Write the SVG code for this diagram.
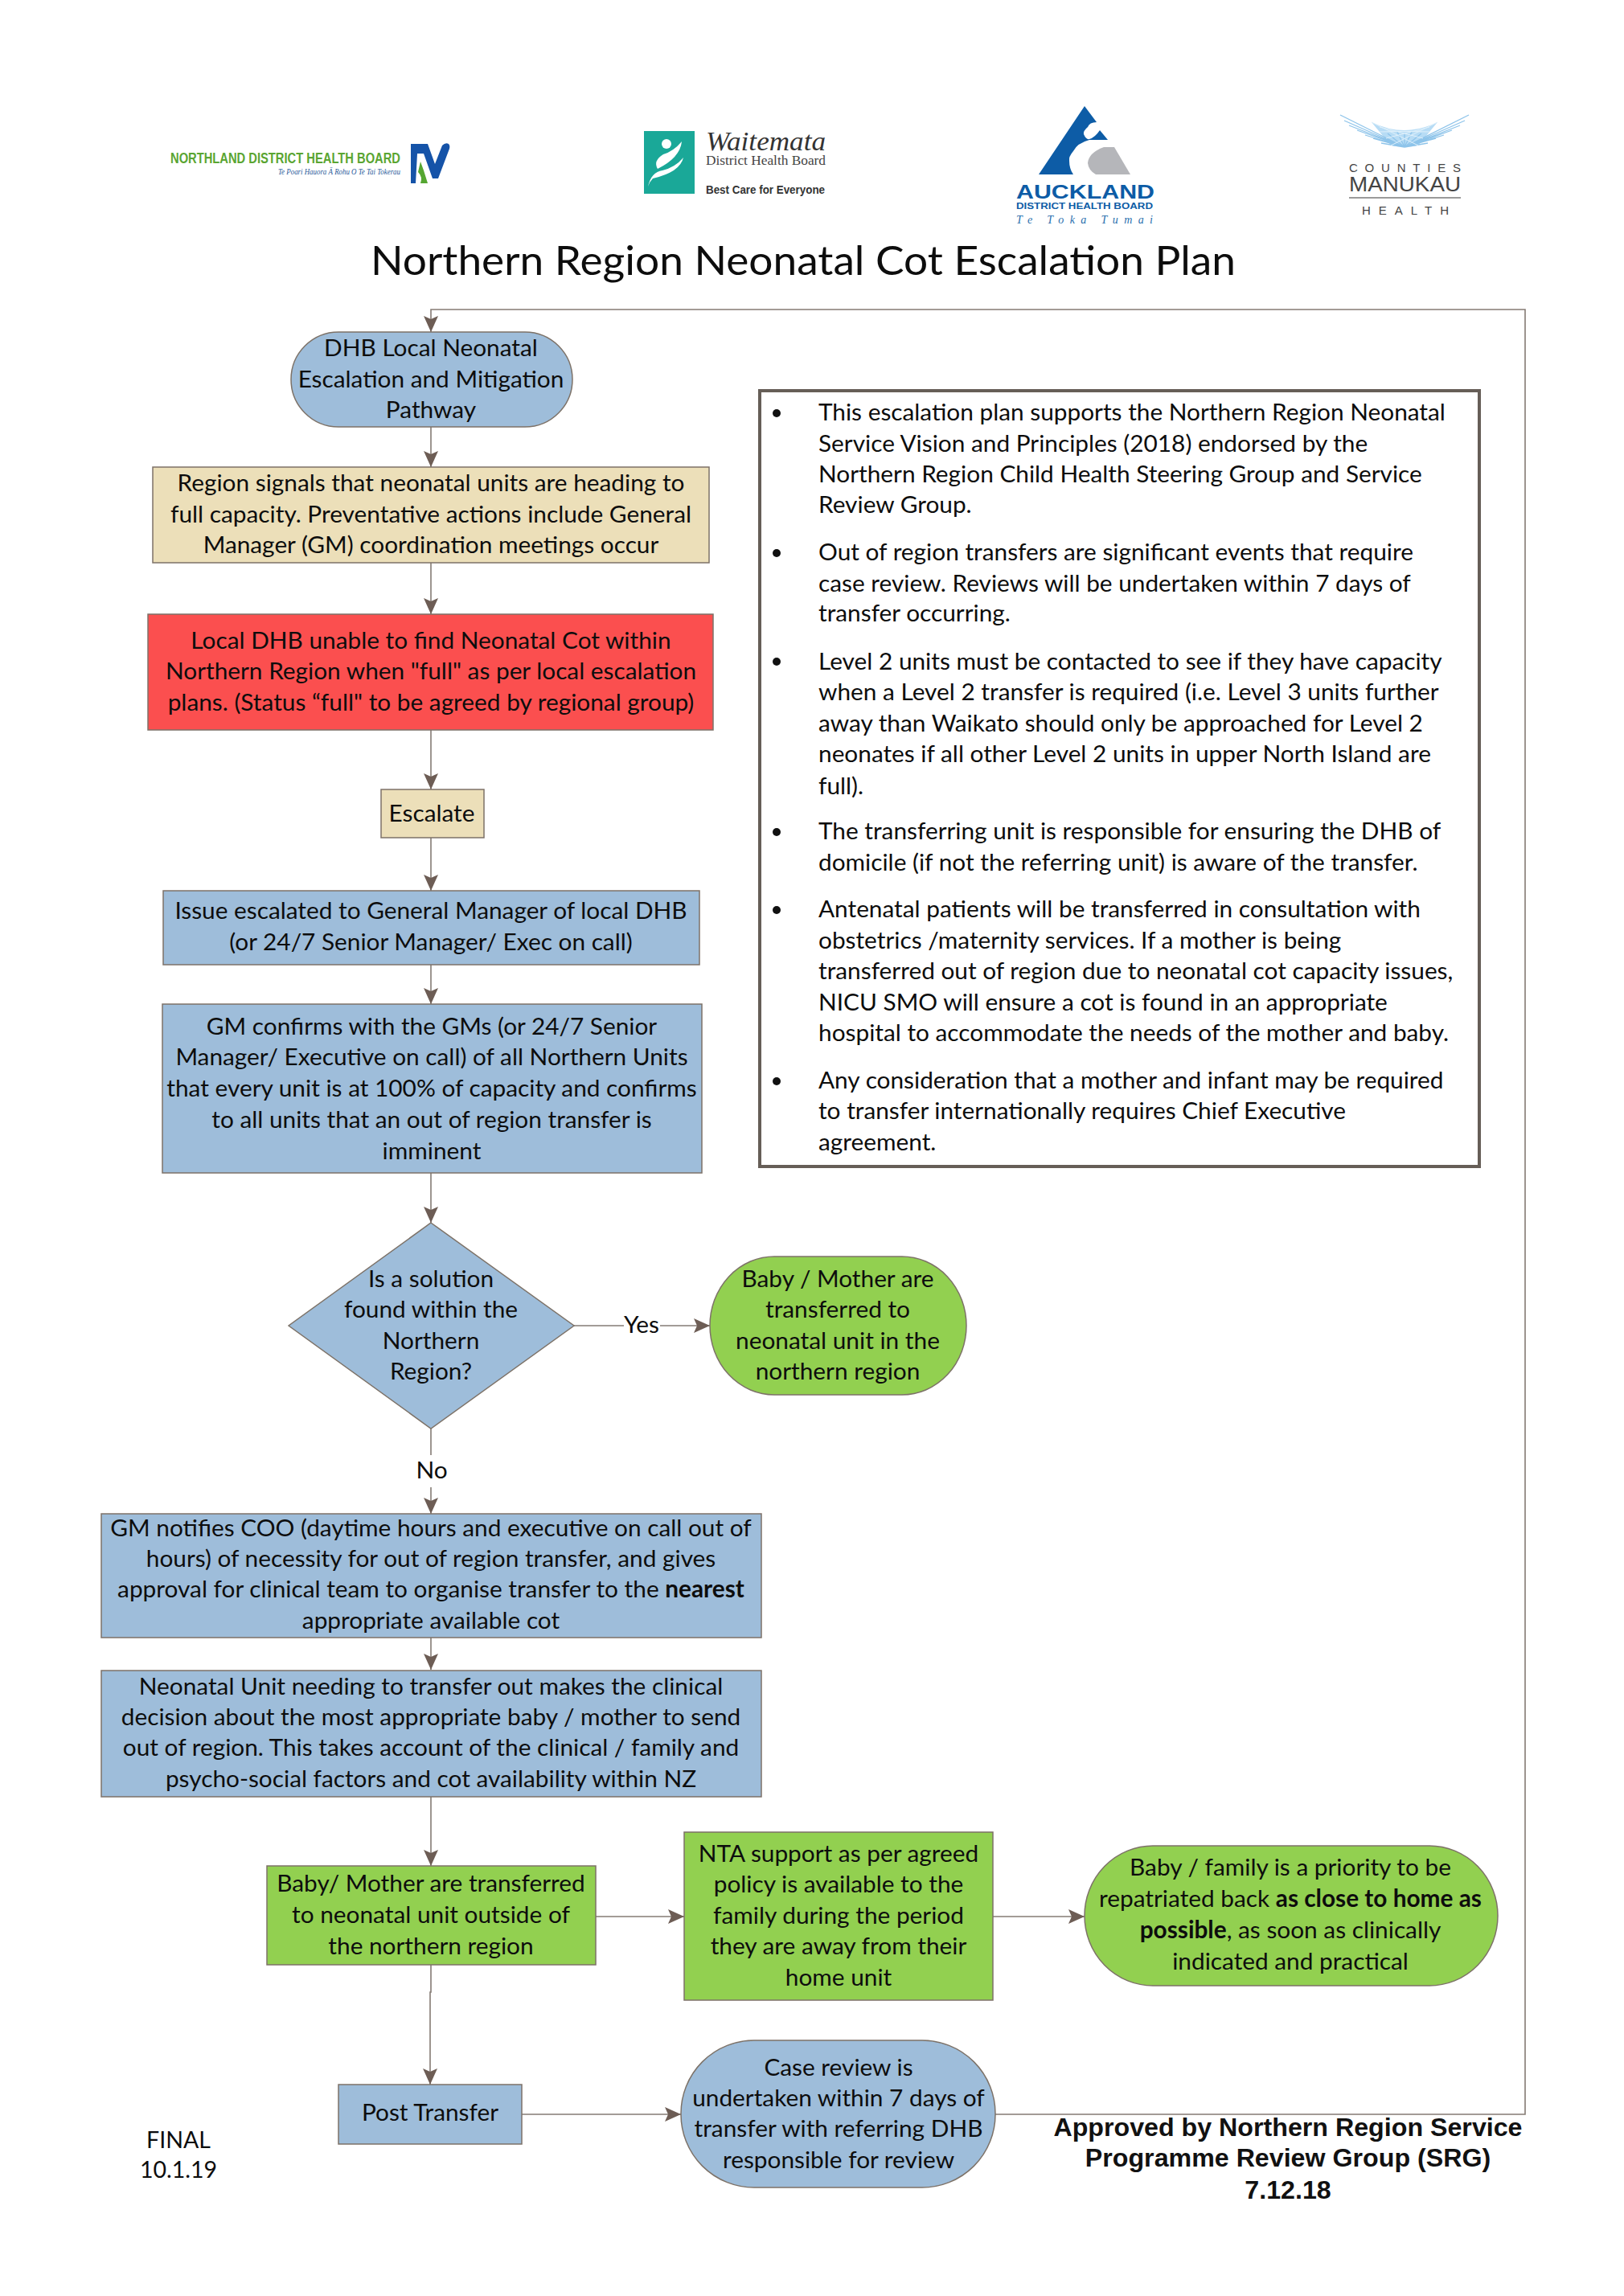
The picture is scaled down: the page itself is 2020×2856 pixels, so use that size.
<svg xmlns="http://www.w3.org/2000/svg" width="2020" height="2856" viewBox="0 0 2020 2856">
<style>
text{font-family:"Lato","Carlito","Liberation Sans",sans-serif;font-size:29.8px;fill:#0d0d0d}
.c{text-anchor:middle}
.b{font-weight:700}
.n{stroke:#7d7268;stroke-width:1.5}
.blue{fill:#9ebdda}.tan{fill:#ecdfb9}.red{fill:#fb4f4f}.green{fill:#92d050}
.e{fill:none;stroke:#857b74;stroke-width:1.6}
.ah{fill:#6d5d55}
.appr{font-family:"Liberation Sans",Arial,sans-serif;font-weight:700;font-size:32.2px;fill:#111}
.ser{font-family:"Liberation Serif",serif}
.sans{font-family:"Liberation Sans",Arial,sans-serif}
.small{font-size:28.5px}
</style>
<defs>
<marker id="arrow" markerUnits="userSpaceOnUse" markerWidth="20" markerHeight="20" refX="20" refY="10" orient="auto">
<path class="ah" d="M0,1 L20,10 L0,19 L4,10 Z"/>
</marker>
</defs>
<rect width="2020" height="2856" fill="#fff"/>

<g id="logo-northland">
<text x="212" y="203" class="sans b" style="font-size:18px;fill:#5aa532" textLength="286" lengthAdjust="spacingAndGlyphs">NORTHLAND DISTRICT HEALTH BOARD</text>
<text x="346" y="217" class="ser" style="font-size:11px;font-style:italic;fill:#2a5a9a" textLength="152" lengthAdjust="spacingAndGlyphs">Te Poari Hauora Ā Rohu O Te Tai Tokerau</text>
<path fill="#1553a8" d="M511,179H532L541,204L550,181Q554,177 558,179Q560,181 559,185L545,222H538L527,191H519L517,228H511Z"/>
<path fill="#55a631" d="M523,201L527,212L532,228H523Q526,220 520,214Z"/>
</g>

<g id="logo-waitemata">
<rect x="801" y="163" width="63" height="78" fill="#1aa898"/>
<circle cx="829" cy="179" r="6" fill="#fff"/>
<path fill="#fff" d="M848,176Q846,196 818,210Q812,200 825,192Q838,188 848,176Z"/>
<path fill="#fff" d="M850,196Q846,214 812,222Q808,226 806,232Q810,214 824,212Q840,208 850,196Z"/>
<text x="878" y="187" class="ser" style="font-size:33px;font-style:italic;fill:#333" textLength="149" lengthAdjust="spacingAndGlyphs">Waitemata</text>
<text x="878" y="205" class="ser" style="font-size:16px;fill:#444" textLength="149" lengthAdjust="spacingAndGlyphs">District Health Board</text>
<text x="878" y="241" class="sans b" style="font-size:14px;fill:#333" textLength="148" lengthAdjust="spacingAndGlyphs">Best Care for Everyone</text>
</g>

<g id="logo-auckland">
<path fill="#0d5ca6" d="M1349,132L1364,152Q1355,152 1353,158Q1347,163 1348,167Q1351,174 1355,173Q1362,171 1368,162L1378,174H1355Q1340,178 1335,188Q1329,195 1330,200Q1330,210 1335,217H1292Z"/>
<path fill="#b5b6ba" d="M1373,183H1386L1406,217H1363Q1354,212 1353,203Q1354,190 1373,183Z"/>
<text x="1264" y="247" class="sans b" style="font-size:23px;fill:#0d5ca6" textLength="172" lengthAdjust="spacingAndGlyphs">AUCKLAND</text>
<text x="1264" y="260" class="sans b" style="font-size:11.5px;fill:#0d5ca6" textLength="170" lengthAdjust="spacingAndGlyphs">DISTRICT HEALTH BOARD</text>
<text x="1264" y="278" class="ser" style="font-size:14px;font-style:italic;fill:#2a70ae" textLength="170" lengthAdjust="spacing">Te Toka Tumai</text>
</g>

<g id="logo-counties">
<path fill="#b7dcf5" d="M1706,152Q1747,172 1788,152L1764,181Q1747,184 1730,181Z"/>
<g fill="none" stroke="#8ec4ea" stroke-width="1.3">
<path d="M1747,183L1667,143M1747,183L1672,150M1747,183L1678,156M1747,183L1688,162M1747,183L1698,168M1747,183L1708,172M1747,183L1718,178M1747,183L1726,166M1747,183L1738,164M1747,183L1747,166M1747,183L1756,164M1747,183L1768,166M1747,183L1776,178M1747,183L1786,172M1747,183L1796,168M1747,183L1806,162M1747,183L1816,156M1747,183L1822,150M1747,183L1827,143"/>
<path stroke="#dff0fb" stroke-width="1" d="M1706,152L1764,181M1716,158L1770,172M1728,163L1778,164M1788,152L1730,181M1778,158L1724,172M1766,163L1716,164"/>
</g>
<text x="1678" y="214" class="sans" style="font-size:15px;fill:#444" textLength="139" lengthAdjust="spacing">COUNTIES</text>
<text x="1678" y="238" class="sans" style="font-size:25px;fill:#444" textLength="139" lengthAdjust="spacingAndGlyphs">MANUKAU</text>
<rect x="1678" y="245" width="139" height="2" fill="#9a9a9a"/>
<text x="1694" y="267" class="sans" style="font-size:15px;fill:#444" textLength="108" lengthAdjust="spacing">HEALTH</text>
</g>

<text id="title" x="461" y="342" style="font-size:50px" textLength="1076" lengthAdjust="spacingAndGlyphs">Northern Region Neonatal Cot Escalation Plan</text>

<g id="connectors">
<path class="e" marker-end="url(#arrow)" d="M1238,2630H1897V385H536V413"/>
<path class="e" marker-end="url(#arrow)" d="M536,531V581"/>
<path class="e" marker-end="url(#arrow)" d="M536,700V764"/>
<path class="e" marker-end="url(#arrow)" d="M536,908V982"/>
<path class="e" marker-end="url(#arrow)" d="M536,1042V1108"/>
<path class="e" marker-end="url(#arrow)" d="M536,1200V1249"/>
<path class="e" marker-end="url(#arrow)" d="M536,1459V1521"/>
<path class="e" d="M714,1649H776"/>
<path class="e" marker-end="url(#arrow)" d="M821,1649H883"/>
<path class="e" d="M536,1777V1810"/>
<path class="e" marker-end="url(#arrow)" d="M536,1850V1883"/>
<path class="e" marker-end="url(#arrow)" d="M536,2037V2077"/>
<path class="e" marker-end="url(#arrow)" d="M536,2235V2321"/>
<path class="e" marker-end="url(#arrow)" d="M741,2384H851"/>
<path class="e" marker-end="url(#arrow)" d="M1235,2384H1349"/>
<path class="e" marker-end="url(#arrow)" d="M536,2444V2478H535V2593"/>
<path class="e" marker-end="url(#arrow)" d="M649,2630H847"/>
</g>

<g id="node-dhb-local">
<rect class="n blue" x="362" y="413" width="350" height="118" rx="59" ry="59"/>
<text class="c" x="536" y="443">DHB Local Neonatal</text>
<text class="c" x="536" y="482">Escalation and Mitigation</text>
<text class="c" x="536" y="520">Pathway</text>
</g>
<g id="node-region-signals">
<rect class="n tan" x="190" y="581" width="692" height="119"/>
<text class="c" x="536" y="611">Region signals that neonatal units are heading to</text>
<text class="c" x="536" y="650">full capacity. Preventative actions include General</text>
<text class="c" x="536" y="688">Manager (GM) coordination meetings occur</text>
</g>
<g id="node-local-dhb">
<rect class="n red" x="184" y="764" width="703" height="144"/>
<text class="c" x="536" y="807">Local DHB unable to find Neonatal Cot within</text>
<text class="c" x="536" y="845">Northern Region when "full" as per local escalation</text>
<text class="c" x="536" y="884">plans. (Status “full" to be agreed by regional group)</text>
</g>
<g id="node-escalate">
<rect class="n tan" x="474" y="982" width="128" height="60"/>
<text class="c" x="537" y="1022">Escalate</text>
</g>
<g id="node-issue">
<rect class="n blue" x="203" y="1108" width="667" height="92"/>
<text class="c" x="536" y="1143">Issue escalated to General Manager of local DHB</text>
<text class="c" x="536" y="1182">(or 24/7 Senior Manager/ Exec on call)</text>
</g>
<g id="node-gm-confirms">
<rect class="n blue" x="202" y="1249" width="671" height="210"/>
<text class="c" x="537" y="1287">GM confirms with the GMs (or 24/7 Senior</text>
<text class="c" x="537" y="1325">Manager/ Executive on call) of all Northern Units</text>
<text class="c" x="537" y="1364">that every unit is at 100% of capacity and confirms</text>
<text class="c" x="537" y="1403">to all units that an out of region transfer is</text>
<text class="c" x="537" y="1442">imminent</text>
</g>
<g id="node-solution">
<polygon class="n blue" points="536,1521 714,1649 536,1777 359,1649"/>
<text class="c" x="536" y="1601">Is a solution</text>
<text class="c" x="536" y="1639">found within the</text>
<text class="c" x="536" y="1678">Northern</text>
<text class="c" x="536" y="1716">Region?</text>
</g>
<text id="label-yes" class="c" x="798" y="1658">Yes</text>
<text id="label-no" class="c" x="537" y="1839">No</text>
<g id="node-baby-transferred-in">
<rect class="n green" x="883" y="1563" width="319" height="172" rx="80" ry="86"/>
<text class="c" x="1042" y="1601">Baby / Mother are</text>
<text class="c" x="1042" y="1639">transferred to</text>
<text class="c" x="1042" y="1678">neonatal unit in the</text>
<text class="c" x="1042" y="1716">northern region</text>
</g>
<g id="node-gm-notifies">
<rect class="n blue" x="126" y="1883" width="821" height="154"/>
<text class="c" x="536" y="1911">GM notifies COO (daytime hours and executive on call out of</text>
<text class="c" x="536" y="1949">hours) of necessity for out of region transfer, and gives</text>
<text class="c" x="536" y="1987">approval for clinical team to organise transfer to the <tspan class="b">nearest</tspan></text>
<text class="c" x="536" y="2026">appropriate available cot</text>
</g>
<g id="node-neonatal-unit">
<rect class="n blue" x="126" y="2078" width="821" height="157"/>
<text class="c" x="536" y="2108">Neonatal Unit needing to transfer out makes the clinical</text>
<text class="c" x="536" y="2146">decision about the most appropriate baby / mother to send</text>
<text class="c" x="536" y="2184">out of region. This takes account of the clinical / family and</text>
<text class="c" x="536" y="2223">psycho-social factors and cot availability within NZ</text>
</g>
<g id="node-baby-transferred-out">
<rect class="n green" x="332" y="2321" width="409" height="123"/>
<text class="c" x="536" y="2353">Baby/ Mother are transferred</text>
<text class="c" x="536" y="2392">to neonatal unit outside of</text>
<text class="c" x="536" y="2431">the northern region</text>
</g>
<g id="node-nta">
<rect class="n green" x="851" y="2279" width="384" height="209"/>
<text class="c" x="1043" y="2316">NTA support as per agreed</text>
<text class="c" x="1043" y="2354">policy is available to the</text>
<text class="c" x="1043" y="2393">family during the period</text>
<text class="c" x="1043" y="2431">they are away from their</text>
<text class="c" x="1043" y="2470">home unit</text>
</g>
<g id="node-repatriated">
<rect class="n green" x="1349" y="2296" width="514" height="174" rx="85" ry="87"/>
<text class="c" x="1605" y="2333">Baby / family is a priority to be</text>
<text class="c" x="1605" y="2372">repatriated back <tspan class="b">as close to home as</tspan></text>
<text class="c" x="1605" y="2411"><tspan class="b">possible</tspan>, as soon as clinically</text>
<text class="c" x="1605" y="2450">indicated and practical</text>
</g>
<g id="node-post-transfer">
<rect class="n blue" x="421" y="2593" width="228" height="74"/>
<text class="c" x="535" y="2638">Post Transfer</text>
</g>
<g id="node-case-review">
<rect class="n blue" x="847" y="2538" width="391" height="183" rx="91" ry="91"/>
<text class="c" x="1043" y="2582">Case review is</text>
<text class="c" x="1043" y="2620">undertaken within 7 days of</text>
<text class="c" x="1043" y="2658">transfer with referring DHB</text>
<text class="c" x="1043" y="2697">responsible for review</text>
</g>

<g id="notes">
<rect x="945" y="486" width="895" height="965" fill="#fff" stroke="#665e57" stroke-width="4"/>
<circle cx="966" cy="514" r="5" fill="#111"/>
<circle cx="966" cy="688" r="5" fill="#111"/>
<circle cx="966" cy="823" r="5" fill="#111"/>
<circle cx="966" cy="1035" r="5" fill="#111"/>
<circle cx="966" cy="1132" r="5" fill="#111"/>
<circle cx="966" cy="1345" r="5" fill="#111"/>
<text x="1018" y="523">This escalation plan supports the Northern Region Neonatal</text>
<text x="1018" y="562">Service Vision and Principles (2018) endorsed by the</text>
<text x="1018" y="600">Northern Region Child Health Steering Group and Service</text>
<text x="1018" y="638">Review Group.</text>
<text x="1018" y="697">Out of region transfers are significant events that require</text>
<text x="1018" y="736">case review. Reviews will be undertaken within 7 days of</text>
<text x="1018" y="773">transfer occurring.</text>
<text x="1018" y="833">Level 2 units must be contacted to see if they have capacity</text>
<text x="1018" y="871">when a Level 2 transfer  is required (i.e. Level 3 units further</text>
<text x="1018" y="910">away than Waikato should only be approached for Level 2</text>
<text x="1018" y="948">neonates if all other Level 2 units in upper North Island are</text>
<text x="1018" y="988">full).</text>
<text x="1018" y="1044">The transferring unit is responsible for ensuring the DHB of</text>
<text x="1018" y="1083">domicile (if not the referring unit) is aware of the transfer.</text>
<text x="1018" y="1141">Antenatal patients will be transferred in consultation with</text>
<text x="1018" y="1180">obstetrics /maternity services. If a mother is being</text>
<text x="1018" y="1218">transferred out of region due to neonatal cot capacity issues,</text>
<text x="1018" y="1257">NICU SMO will ensure a cot is found in an appropriate</text>
<text x="1018" y="1295">hospital to accommodate the needs of the mother and baby.</text>
<text x="1018" y="1354">Any consideration that a mother and infant may be required</text>
<text x="1018" y="1392">to transfer internationally requires Chief Executive</text>
<text x="1018" y="1431">agreement.</text>
</g>

<g id="approved">
<text class="appr c" x="1602" y="2657">Approved by Northern Region Service</text>
<text class="appr c" x="1602" y="2695">Programme Review Group (SRG)</text>
<text class="appr c" x="1602" y="2735">7.12.18</text>
</g>
<g id="final">
<text class="c small" x="222" y="2672">FINAL</text>
<text class="c small" x="222" y="2709">10.1.19</text>
</g>
</svg>
